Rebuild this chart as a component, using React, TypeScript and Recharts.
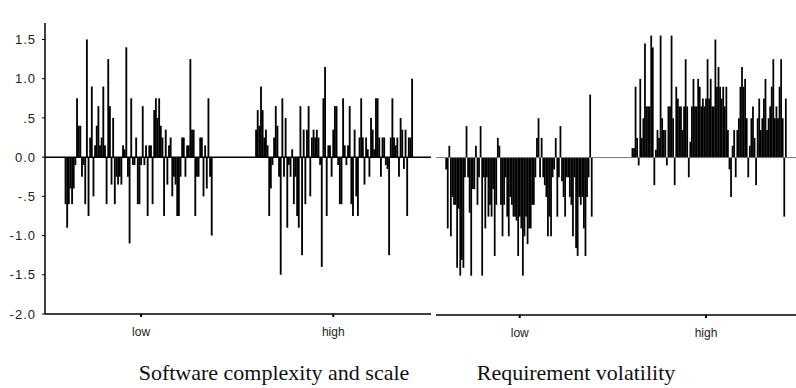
import { BarChart, Bar, XAxis, YAxis, ReferenceLine } from "recharts";

// residuals per case, read left to right from the picture
const complexityLow = [
  -0.6, -0.9, -0.6, -0.4, -0.6, -0.4, -0.1, 0.75, 0.4, 0.4,
  -0.25, -0.1, -0.6, 1.5, -0.75, 0.25, 0.9, -0.5, 0.15, 0.4,
  0.65, 0.15, 0.25, 0.9, 0.15, -0.6, 1.25, 0.65, -0.35, 0.5,
  -0.6, -0.25, -0.35, -0.25, -0.35, 0.15, 0.1, 1.4, -0.25, -1.1,
  0.75, -0.1, -0.1, 0.25, -0.6, -0.6, -0.1, 0.65, -0.1, 0.15,
  -0.75, 0.15, 0.15, -0.6, 0.6, 0.75, 0.5, 0.75, 0.4, 0.25,
  -0.75, 0.35, -0.35, 0.15, 0.25, -0.5, -0.25, -0.35, -0.75, -0.75,
  -0.25, 0.25, 0.25, -0.25, 0.15, 0.15, 1.25, 0.35, 0.35, -0.75,
  -0.25, -0.25, 0.25, 0.25, -0.5, 0.15, -0.4, 0.75, -0.25, -1.0,
];

const complexityHigh = [
  0.35, 0.6, 0.4, 0.9, 0.6, 0.25, 0.35, 0.15, -0.75, -0.4,
  -0.1, 0.25, 0.65, 0.4, -0.25, -1.5, 0.75, -0.25, 0.5, -0.9,
  -0.1, -0.25, 0.1, -0.6, -0.25, -0.75, -0.9, 0.65, -1.25, 0.35,
  -0.6, 0.35, 0.65, -0.5, 0.25, 0.35, 0.25, 0.35, 0.25, -0.1,
  -1.4, 0.75, 1.15, -0.75, 0.15, 0.15, -0.25, 0.35, 0.65, 0.65,
  -0.1, -0.6, -0.6, 0.75, 0.15, -0.1, 0.15, 0.65, -0.6, -0.75,
  0.35, -0.5, -0.75, 0.25, 0.75, 0.25, -0.35, 0.25, 0.1, -0.25,
  0.5, 0.35, 0.1, 0.75, 0.75, 0.25, -0.25, 0.25, 0.25, -0.1,
  -0.15, -1.25, 0.25, 0.75, 0.25, 0.15, 0.25, -0.25, 0.5, 0.35,
  -0.15, 0.35, -0.75, 0.25, 0.25, 1.0,
];

const volatilityLow = [
  -0.15, -0.9, 0.15, -1.0, -0.5, -0.6, -0.6, -1.4, -0.65, -1.5,
  -1.3, -1.4, -0.25, 0.4, -0.25, -0.7, -1.5, -0.4, -0.4, 0.15,
  -0.6, -0.25, 0.4, -1.5, -0.25, -0.9, -0.25, -0.75, -0.6, -0.75,
  -0.4, -1.25, -0.6, 0.25, 0.15, -0.6, -1.0, -0.6, -0.25, -0.75,
  -1.0, -0.5, -0.6, -0.75, -0.75, -0.8, -1.25, -0.75, -0.9, -1.5,
  -1.0, -0.75, -1.1, -0.9, -0.9, -0.6, -0.6, -0.25, 0.25, 0.5,
  -0.25, 0.25, -0.25, -0.35, -0.5, -1.0, -0.75, -1.0, -0.25, -0.15,
  0.25, -0.75, -0.25, 0.4, -0.3, -0.5, -0.75, -0.25, -0.25, -0.5,
  -0.6, -1.0, -0.25, -1.15, -1.25, -0.5, -0.6, -0.5, -0.9, -1.25,
  -0.5, -0.25, 0.8, -0.75,
];

const volatilityHigh = [
  0.12, 0.12, 0.9, 0.25, -0.1, 1.0, 0.25, 0.5, 1.45, 0.65,
  0.65, 0.65, 1.55, 1.4, -0.35, 0.1, 0.35, 0.25, 1.55, 0.5,
  0.35, 0.35, -0.1, 0.65, 0.65, 1.55, 0.5, -0.35, 0.9, 0.75,
  0.65, 0.65, 0.35, 0.65, 1.25, 0.65, -0.25, 0.2, 0.65, 1.0,
  0.65, 0.65, 1.0, 0.9, 0.65, 0.75, 0.65, 0.75, 1.25, 0.75,
  1.0, 0.65, 0.65, 1.5, 0.9, 1.15, 0.9, 0.75, 0.9, 0.65,
  0.9, 0.35, -0.15, -0.5, 0.15, 0.35, -0.25, 0.35, 0.5, 0.9,
  1.15, 0.9, 1.0, 0.5, -0.25, 0.15, 0.5, 0.65, 0.25, -0.35,
  0.5, 0.75, 0.35, 0.5, 0.75, 1.0, 0.35, 0.5, 0.65, 0.9,
  1.25, 0.5, 0.65, 0.5, 0.9, 1.25, 0.5, -0.75, 0.75,
];

const groupLabels = ["low", "high"];
const yTicks = [-2, -1.5, -1, -0.5, 0, 0.5, 1, 1.5];
const yTickLabels = ["-2.0", "-1.5", "-1.0", "-.5", "0.0", ".5", "1.0", "1.5"];
const panelTitles = ["Software complexity and scale", "Requirement volatility"];

// slot layout: each case takes one narrow category slot
const LEFT_SLOTS = 235;
const RIGHT_SLOTS = 230;
const LEFT_W = 440;
const RIGHT_W = 360;
const LEFT_PLOT_W = LEFT_W - 45 - 9;
const RIGHT_PLOT_W = RIGHT_W;

const buildRows = (
  total: number,
  groups: { start: number; values: number[] }[]
) => {
  const rows = Array.from({ length: total }, (_, i) => ({
    slot: i,
    v: null as number | null,
  }));
  groups.forEach((g) =>
    g.values.forEach((v, k) => {
      rows[g.start + k].v = v;
    })
  );
  return rows;
};

const leftRows = buildRows(LEFT_SLOTS, [
  { start: 12, values: complexityLow },
  { start: 128, values: complexityHigh },
]);
const rightRows = buildRows(RIGHT_SLOTS, [
  { start: 6, values: volatilityLow },
  { start: 125, values: volatilityHigh },
]);

const tickFont = {
  fill: "#222",
  fontSize: 12,
  fontFamily: "Liberation Sans, Arial, sans-serif",
};

// widen each bar to its full slot so neighbouring cases touch, like the original
const slotBar = (slotW: number) => (p: any) => {
  if (p.value == null || !p.height) return null;
  const y = p.height < 0 ? p.y + p.height : p.y;
  return (
    <rect
      x={p.x - 0.1}
      y={y}
      width={slotW + 0.2}
      height={Math.abs(p.height)}
      fill="#000"
    />
  );
};

const App = () => {
  const leftTicks = [58, 175];
  const rightTicks = [53, 172];
  const labelFor = (ticks: number[]) => (v: number) =>
    groupLabels[ticks.indexOf(v)] ?? "";

  return (
    <div
      style={{
        position: "absolute",
        left: 0,
        top: 0,
        width: 796,
        height: 388,
        overflow: "hidden",
        background: "#fff",
      }}
    >
      {/* left panel */}
      <div style={{ position: "absolute", left: 0, top: 0 }}>
        <BarChart
          width={LEFT_W}
          height={345}
          data={leftRows}
          barCategoryGap={0}
          barGap={0}
          margin={{ top: 23, right: 9, left: 0, bottom: 0 }}
        >
          <XAxis
            dataKey="slot"
            ticks={leftTicks}
            interval={0}
            tickFormatter={labelFor(leftTicks)}
            height={31}
            tickSize={3}
            tickMargin={10}
            axisLine={{ stroke: "#000", strokeWidth: 1.5 }}
            tickLine={{ stroke: "#000", strokeWidth: 2 }}
            tick={tickFont}
          />
          <YAxis
            domain={[-2, 1.71]}
            allowDataOverflow
            ticks={yTicks}
            interval={0}
            width={45}
            tickSize={3}
            tickMargin={6}
            tickFormatter={(v: number) => yTickLabels[yTicks.indexOf(v)]}
            axisLine={{ stroke: "#000", strokeWidth: 1.5 }}
            tickLine={{ stroke: "#000" }}
            tick={{ ...tickFont, fontSize: 13, letterSpacing: 1 }}
          />
          <YAxis
            yAxisId="border"
            orientation="right"
            domain={[-2, 1.71]}
            ticks={[-2, 0]}
            width={0}
            tickSize={3}
            tickFormatter={() => ""}
            axisLine={{ stroke: "#000", strokeWidth: 1.5 }}
            tickLine={{ stroke: "#000" }}
          />
          <Bar
            dataKey="v"
            shape={slotBar(LEFT_PLOT_W / LEFT_SLOTS)}
            isAnimationActive={false}
          />
          <ReferenceLine y={0} stroke="#000" strokeWidth={1.5} />
        </BarChart>
      </div>

      {/* right panel */}
      <div style={{ position: "absolute", left: 436, top: 0 }}>
        <BarChart
          width={RIGHT_W}
          height={346}
          data={rightRows}
          barCategoryGap={0}
          barGap={0}
          margin={{ top: 23, right: 0, left: 0, bottom: 0 }}
        >
          <XAxis
            dataKey="slot"
            ticks={rightTicks}
            interval={0}
            tickFormatter={labelFor(rightTicks)}
            height={31}
            tickSize={3}
            tickMargin={10}
            axisLine={{ stroke: "#000", strokeWidth: 1.5 }}
            tickLine={{ stroke: "#000", strokeWidth: 2 }}
            tick={tickFont}
          />
          <YAxis hide domain={[-2, 1.71]} allowDataOverflow />
          <Bar
            dataKey="v"
            shape={slotBar(RIGHT_PLOT_W / RIGHT_SLOTS)}
            isAnimationActive={false}
          />
          <ReferenceLine y={0} stroke="#777" strokeWidth={1} />
        </BarChart>
      </div>

      {/* panel titles */}
      {panelTitles.map((t, i) => (
        <div
          key={t}
          style={{
            position: "absolute",
            top: 360,
            left: i === 0 ? 124 : 426,
            width: 300,
            textAlign: "center",
            fontFamily: "Liberation Serif, Times New Roman, serif",
            fontSize: 22,
            lineHeight: "26px",
            color: "#111",
          }}
        >
          {t}
        </div>
      ))}
    </div>
  );
};

export default App;
